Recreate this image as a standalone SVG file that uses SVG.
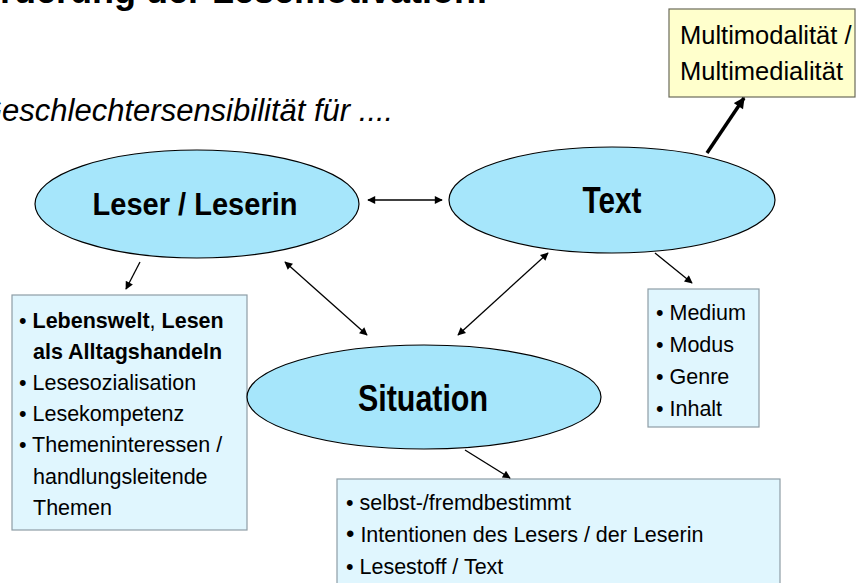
<svg xmlns="http://www.w3.org/2000/svg" width="856" height="583" viewBox="0 0 856 583">
<style>
.ell{fill:#A6E6FB;stroke:#000;stroke-width:1.2}
.box{fill:#E0F6FE;stroke:#8E9DA6;stroke-width:1.2}
.ybox{fill:#FFFFCC;stroke:#6B6B5A;stroke-width:1.2}
.lbl{font-family:"Liberation Sans Narrow","Arial Narrow","Liberation Sans",Arial,sans-serif;font-weight:bold;fill:#000;text-anchor:middle}
.t{font-family:"Liberation Sans",Arial,sans-serif;font-size:21.5px;fill:#000}
.b{font-weight:bold}
.con{stroke:#000;stroke-width:1.3;fill:none}
.thick{stroke:#000;stroke-width:3.5;fill:none}
</style>
<defs>
<marker id="ah" viewBox="0 0 10 10" refX="9" refY="5" markerWidth="9" markerHeight="8" markerUnits="userSpaceOnUse" orient="auto-start-reverse">
<path d="M0,0 L10,5 L0,10 z" fill="#000"/>
</marker>
<marker id="ahb" viewBox="0 0 10 10" refX="9" refY="5" markerWidth="12" markerHeight="11" markerUnits="userSpaceOnUse" orient="auto">
<path d="M0,0 L10,5 L0,10 z" fill="#000"/>
</marker>
</defs>

<g id="title">
<text x="-44" y="3" font-family="Liberation Sans, Arial, sans-serif" font-size="36" font-weight="bold">Förderung der Lesemotivation:</text>
<text x="-22" y="121" font-family="Liberation Sans, Arial, sans-serif" font-size="31" font-style="italic">Geschlechtersensibilität für ....</text>
</g>

<g id="box-leser">
<rect class="box" x="12" y="295" width="235" height="235"/>
<text class="t" x="19" y="328">• <tspan class="b">Lebenswelt</tspan>, <tspan class="b">Lesen</tspan></text>
<text class="t b" x="33" y="359">als Alltagshandeln</text>
<text class="t" x="19" y="390">• Lesesozialisation</text>
<text class="t" x="19" y="421">• Lesekompetenz</text>
<text class="t" x="19" y="452">• Themeninteressen /</text>
<text class="t" x="33" y="484">handlungsleitende</text>
<text class="t" x="33" y="515">Themen</text>
</g>

<g id="box-text">
<rect class="box" x="648" y="289" width="111" height="138"/>
<text class="t" x="656" y="320">• Medium</text>
<text class="t" x="656" y="352">• Modus</text>
<text class="t" x="656" y="384">• Genre</text>
<text class="t" x="656" y="416">• Inhalt</text>
</g>

<g id="box-situation">
<rect class="box" x="337" y="479" width="443" height="110"/>
<text class="t" x="346" y="510">• selbst-/fremdbestimmt</text>
<text class="t" x="346" y="542"><tspan font-size="24">•</tspan> Intentionen des Lesers / der Leserin</text>
<text class="t" x="346" y="574">• Lesestoff / Text</text>
</g>

<g id="box-multi">
<rect class="ybox" x="669" y="9" width="186" height="88"/>
<text x="680" y="44" font-family="Liberation Sans, Arial, sans-serif" font-size="25.5">Multimodalität /</text>
<text x="680" y="80" font-family="Liberation Sans, Arial, sans-serif" font-size="25.5">Multimedialität</text>
</g>

<g id="node-leser">
<ellipse class="ell" cx="197" cy="204" rx="162" ry="54"/>
<text class="lbl" x="195" y="215" font-size="32" textLength="205" lengthAdjust="spacingAndGlyphs">Leser / Leserin</text>
</g>

<g id="node-text">
<ellipse class="ell" cx="612" cy="200" rx="163" ry="53"/>
<text class="lbl" x="612" y="213" font-size="36" textLength="59" lengthAdjust="spacingAndGlyphs">Text</text>
</g>

<g id="node-situation">
<ellipse class="ell" cx="424" cy="397" rx="177" ry="52"/>
<text class="lbl" x="423" y="411" font-size="37" textLength="130" lengthAdjust="spacingAndGlyphs">Situation</text>
</g>

<g id="connectors">
<line class="con" x1="368" y1="200" x2="442" y2="200" marker-start="url(#ah)" marker-end="url(#ah)"/>
<line class="con" x1="285" y1="262" x2="367" y2="335" marker-start="url(#ah)" marker-end="url(#ah)"/>
<line class="con" x1="548" y1="253" x2="458" y2="335" marker-start="url(#ah)" marker-end="url(#ah)"/>
<line class="con" x1="140" y1="262" x2="126" y2="289" marker-end="url(#ah)"/>
<line class="con" x1="655" y1="253" x2="692" y2="283" marker-end="url(#ah)"/>
<line class="con" x1="465" y1="450" x2="510" y2="478" marker-end="url(#ah)"/>
<line class="thick" x1="707" y1="153" x2="744" y2="98" marker-end="url(#ahb)"/>
</g>
</svg>
